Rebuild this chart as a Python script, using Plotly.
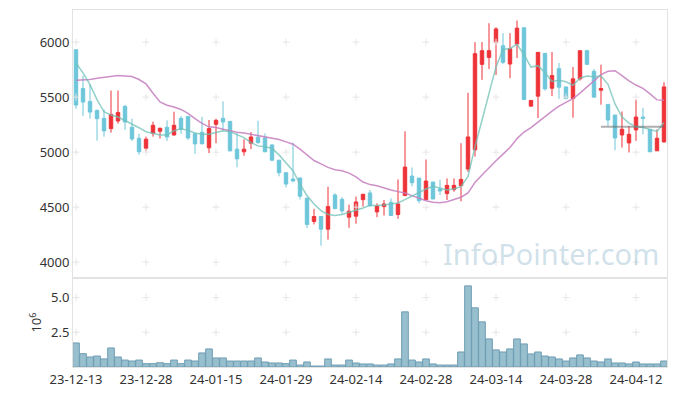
import plotly.graph_objects as go
from plotly.subplots import make_subplots

# ---------------- data ----------------
dates = [
    "23-12-13", "23-12-14", "23-12-15", "23-12-18", "23-12-19", "23-12-20", "23-12-21", "23-12-22", "23-12-26", "23-12-27",
    "23-12-28", "24-01-02", "24-01-03", "24-01-04", "24-01-05", "24-01-08", "24-01-09", "24-01-10", "24-01-11", "24-01-12",
    "24-01-15", "24-01-16", "24-01-17", "24-01-18", "24-01-19", "24-01-22", "24-01-23", "24-01-24", "24-01-25", "24-01-26",
    "24-01-29", "24-01-30", "24-01-31", "24-02-01", "24-02-02", "24-02-05", "24-02-06", "24-02-07", "24-02-08", "24-02-13",
    "24-02-14", "24-02-15", "24-02-16", "24-02-19", "24-02-20", "24-02-21", "24-02-22", "24-02-23", "24-02-26", "24-02-27",
    "24-02-28", "24-02-29", "24-03-04", "24-03-05", "24-03-06", "24-03-07", "24-03-08", "24-03-11", "24-03-12", "24-03-13",
    "24-03-14", "24-03-15", "24-03-18", "24-03-19", "24-03-20", "24-03-21", "24-03-22", "24-03-25", "24-03-26", "24-03-27",
    "24-03-28", "24-03-29", "24-04-01", "24-04-02", "24-04-03", "24-04-04", "24-04-05", "24-04-08", "24-04-09", "24-04-11",
    "24-04-12", "24-04-15", "24-04-16", "24-04-17", "24-04-18",
]

opens = [
    5931, 5578, 5461, 5379, 5307, 5214, 5283, 5415, 5226, 5126,
    5036, 5171, 5190, 5226, 5156, 5307, 5325, 5168, 5180, 5039,
    5253, 5307, 5280, 5027, 5003, 5081, 5135, 5129, 5066, 4927,
    4813, 4756, 4765, 4580, 4370, 4415, 4300, 4611, 4571, 4409,
    4418, 4568, 4629, 4457, 4505, 4544, 4433, 4605, 4782, 4764,
    4568, 4728, 4665, 4623, 4659, 4695, 4846, 5021, 5798, 5861,
    5997, 5967, 5801, 5982, 6130, 5418, 5509, 5898, 5581, 5759,
    5593, 5488, 5666, 5922, 5735, 5563, 5434, 5337, 5156, 5084,
    5202, 5319, 5208, 5012, 5093,
]
highs = [
    5935, 5696, 5614, 5388, 5388, 5560, 5560, 5430, 5304, 5168,
    5141, 5277, 5223, 5289, 5367, 5328, 5325, 5168, 5322, 5292,
    5304, 5461, 5280, 5177, 5118, 5183, 5286, 5171, 5066, 4927,
    4813, 5087, 4765, 4590, 4485, 4415, 4685, 4626, 4590, 4523,
    4596, 4620, 4656, 4535, 4565, 4580, 4752, 5189, 4861, 4764,
    4933, 4728, 4749, 4761, 4761, 5081, 5539, 6000, 6000, 6172,
    6136, 6081, 6081, 6196, 6136, 5472, 5907, 5898, 5910, 5810,
    5593, 5774, 5922, 5931, 5756, 5795, 5434, 5337, 5370, 5238,
    5479, 5403, 5208, 5207, 5635,
]
lows = [
    5394, 5328, 5304, 5105, 5141, 5177, 5259, 5202, 5102, 4976,
    5006, 5141, 5123, 5102, 5150, 5166, 5111, 4985, 5075, 4991,
    5081, 5193, 5006, 4862, 4967, 5027, 5075, 5003, 4918, 4780,
    4680, 4726, 4570, 4310, 4343, 4150, 4205, 4480, 4439, 4312,
    4349, 4505, 4505, 4409, 4424, 4424, 4394, 4605, 4689, 4535,
    4568, 4574, 4611, 4565, 4640, 4553, 4820, 4960, 5657, 5756,
    5702, 5800, 5672, 5855, 5479, 5418, 5310, 5560, 5509, 5485,
    5480, 5313, 5650, 5798, 5500, 5431, 5238, 5018, 5042, 4997,
    5102, 5162, 5003, 5011, 5087,
]
closes = [
    5428, 5455, 5364, 5304, 5193, 5343, 5361, 5274, 5120, 5003,
    5118, 5244, 5217, 5138, 5244, 5208, 5129, 5075, 5075, 5214,
    5289, 5274, 5012, 4939, 5027, 5138, 5087, 5003, 4927, 4813,
    4710, 4738, 4599, 4343, 4415, 4300, 4505, 4487, 4466, 4463,
    4547, 4617, 4514, 4511, 4529, 4424, 4529, 4864, 4722, 4559,
    4737, 4574, 4647, 4698, 4698, 4752, 5138, 5895, 5922, 5922,
    6120, 5816, 5940, 6127, 5479, 5470, 5907, 5575, 5696, 5590,
    5488, 5666, 5922, 5798, 5500, 5578, 5292, 5129, 5208, 5162,
    5319, 5307, 5003, 5126, 5593,
]
ma5 = [
    5810, 5720, 5614, 5478, 5367, 5337, 5319, 5289, 5259, 5222,
    5186, 5168, 5156, 5156, 5195, 5213, 5198, 5174, 5162, 5162,
    5177, 5195, 5186, 5162, 5132, 5087, 5057, 5048, 5035, 4975,
    4906, 4831, 4710, 4605, 4529, 4469, 4433, 4424, 4433, 4451,
    4469, 4493, 4517, 4514, 4520, 4526, 4538, 4568, 4599, 4635,
    4665, 4689, 4671, 4656, 4665, 4686, 4780, 5050, 5290, 5532,
    5775, 5933, 5942, 5980, 5886, 5773, 5786, 5723, 5642, 5654,
    5640, 5608, 5673, 5691, 5685, 5691, 5616, 5438, 5320, 5263,
    5230, 5224, 5204, 5188, 5269,
]
ma20 = [
    5654, 5654, 5660, 5672, 5681, 5690, 5696, 5693, 5687, 5660,
    5620, 5535, 5456, 5426, 5411, 5388, 5352, 5304, 5262, 5230,
    5223, 5208, 5193, 5180, 5174, 5162, 5150, 5141, 5130, 5114,
    5093, 5072, 5027, 4976, 4924, 4894, 4861, 4840, 4831, 4809,
    4776, 4728, 4705, 4695, 4674, 4656, 4641, 4629, 4605, 4580,
    4559, 4544, 4541, 4550, 4568, 4590, 4630, 4725, 4792, 4861,
    4921, 4982, 5042, 5123, 5183, 5223, 5274, 5328, 5373, 5418,
    5450, 5486, 5536, 5590, 5650, 5705, 5735, 5740, 5695, 5647,
    5610, 5580, 5530, 5475, 5472,
]
volume_m = [
    1.73, 0.96, 0.72, 0.79, 0.58, 1.37, 0.72, 0.50, 0.43, 0.50,
    0.24, 0.24, 0.31, 0.24, 0.50, 0.24, 0.50, 0.43, 1.01, 1.30,
    0.65, 0.65, 0.43, 0.43, 0.43, 0.43, 0.65, 0.36, 0.29, 0.29,
    0.24, 0.50, 0.14, 0.36, 0.07, 0.07, 0.58, 0.14, 0.14, 0.50,
    0.29, 0.22, 0.22, 0.14, 0.14, 0.22, 0.58, 3.97, 0.50, 0.36,
    0.58, 0.22, 0.14, 0.14, 0.14, 1.08, 5.84, 4.26, 3.25, 2.02,
    1.23, 1.08, 1.30, 2.02, 1.66, 0.94, 1.08, 0.79, 0.72, 0.58,
    0.43, 0.65, 0.87, 0.65, 0.43, 0.36, 0.58, 0.29, 0.29, 0.22,
    0.36, 0.22, 0.22, 0.22, 0.43,
]
ref_level = 5230          # grey horizontal level at the right end
ref_start_idx = 75        # first day the grey level is drawn

price_ticks = [4000, 4500, 5000, 5500, 6000]
vol_ticks = [2.5, 5.0]
xtick_labels = dates[::10]

# ---------------- styling ----------------
RED = "#ee3338"
CYAN = "#6ec6da"
GRID = "#e6e6e6"
AXLINE = "#e3e3e3"
FONT = "Noto Sans"

fig = make_subplots(rows=2, cols=1, shared_xaxes=True, vertical_spacing=0,
                    row_heights=[0.751, 0.249])

fig.add_trace(go.Candlestick(
    x=dates, open=opens, high=highs, low=lows, close=closes,
    increasing=dict(line=dict(color=RED, width=1), fillcolor=RED),
    decreasing=dict(line=dict(color=CYAN, width=1), fillcolor=CYAN),
    whiskerwidth=0,
), row=1, col=1)

fig.add_trace(go.Bar(x=dates, y=volume_m,
                     marker=dict(color="#98bfce", line=dict(color="#6e9db3", width=1))),
              row=2, col=1)

# grid crosses at tick intersections
gx, gy = [], []
for xl in xtick_labels:
    for yv in price_ticks:
        gx.append(xl); gy.append(yv)
fig.add_trace(go.Scatter(x=gx, y=gy, mode="markers", hoverinfo="skip",
                         marker=dict(symbol="cross-thin", size=5,
                                     line=dict(color=GRID, width=1))),
              row=1, col=1)
gx2, gy2 = [], []
for xl in xtick_labels:
    for yv in vol_ticks:
        gx2.append(xl); gy2.append(yv)
fig.add_trace(go.Scatter(x=gx2, y=gy2, mode="markers", hoverinfo="skip",
                         marker=dict(symbol="cross-thin", size=5,
                                     line=dict(color=GRID, width=1))),
              row=2, col=1)

fig.add_trace(go.Scatter(x=dates, y=ma20, mode="lines",
                         line=dict(color="rgba(196,124,190,0.85)", width=1.5)),
              row=1, col=1)
fig.add_trace(go.Scatter(x=dates, y=ma5, mode="lines",
                         line=dict(color="rgba(110,192,182,0.75)", width=1.5)),
              row=1, col=1)
fig.add_trace(go.Scatter(x=dates[ref_start_idx:], y=[ref_level] * len(dates[ref_start_idx:]),
                         mode="lines",
                         line=dict(color="rgba(110,110,110,0.55)", width=2)),
              row=1, col=1)

axis_common = dict(showgrid=False, zeroline=False, showline=True, linecolor=AXLINE,
                   linewidth=1, mirror=True, ticks="",
                   tickfont=dict(family=FONT, size=13, color="#333"))

fig.update_xaxes(type="category", categoryorder="array", categoryarray=dates,
                 range=[-0.43, len(dates) - 0.57], tickangle=0,
                 tickmode="array", tickvals=xtick_labels, ticktext=xtick_labels,
                 rangeslider=dict(visible=False), **axis_common)
fig.update_xaxes(showticklabels=False, row=1, col=1)

fig.update_yaxes(range=[3855, 6292], tickmode="array", tickvals=price_ticks,
                 row=1, col=1, **axis_common)
fig.update_yaxes(range=[0, 6.4], tickmode="array", tickvals=vol_ticks,
                 tickformat=".1f",
                 title=dict(text="10<sup>6</sup>", standoff=6,
                            font=dict(family=FONT, size=13, color="#333")),
                 row=2, col=1, **axis_common)

fig.add_annotation(text="InfoPointer.com", xref="paper", yref="paper",
                   x=0.805, y=0.317, xanchor="center", yanchor="middle",
                   showarrow=False,
                   font=dict(family=FONT, size=29, color="rgba(150,188,208,0.45)"))

# the page body has an 8px default margin: size the figure so the plot area
# lands where the reference has it
fig.update_layout(width=669, height=388, margin=dict(l=65, r=10, t=2, b=29),
                  paper_bgcolor="white", plot_bgcolor="white", showlegend=False,
                  bargap=0.05, hovermode=False,
                  font=dict(family=FONT, size=13, color="#333"))

fig.write_html("out.html")
